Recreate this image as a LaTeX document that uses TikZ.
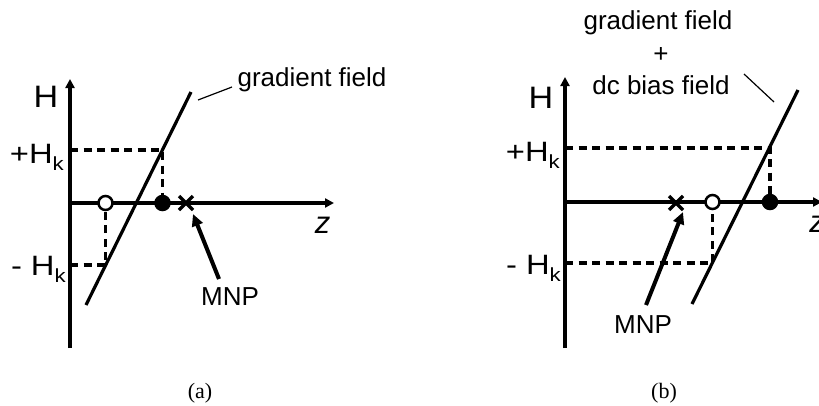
\documentclass[tikz,border=0pt]{standalone}
\usepackage{fontspec}
\setmainfont{Liberation Sans}
\newfontfamily\capfont{Liberation Serif}
\usetikzlibrary{arrows.meta,calc}
\newcommand{\fsz}[1]{\fontsize{#1}{#1}\selectfont}
\newcommand{\subk}{\lower7pt\hbox{\fsz{19}k}}
\newcommand{\wide}[1]{\scalebox{1.17}[1]{#1}}
\begin{document}
\begin{tikzpicture}[x=1pt,y=-1pt,
  axis/.style={line width=3.2pt,-{Triangle[length=9pt,width=9pt]}},
  field/.style={line width=3.2pt},
  guide/.style={line width=3.2pt,dash pattern=on 8pt off 5.5pt},
  leader/.style={line width=1.2pt},
  mnparrow/.style={line width=4pt,-{Triangle[length=12pt,width=11pt]}},
  fullpt/.style={circle,fill=black,draw=black,line width=2.5pt,minimum size=14pt,inner sep=0pt},
  openpt/.style={circle,fill=white,draw=black,line width=2.5pt,minimum size=14pt,inner sep=0pt},
  cross/.style={line width=3.5pt},
  lab/.style={inner sep=0pt,font=\fsz{26}},
  biglab/.style={inner sep=0pt,font=\fsz{31}},
  zlab/.style={inner sep=0pt,font=\fsz{31}\itshape,anchor=base},
  hk/.style={inner sep=0pt,font=\fsz{28},anchor=base east},
  capt/.style={inner sep=0pt,font=\capfont\fsz{22},anchor=base}]
\useasboundingbox (0,0) rectangle (819,405);
% ---------------- panel (a) ----------------
\coordinate (aO) at (70,203);
\coordinate (aTop) at (70,79);
\coordinate (aBot) at (70,348);
\coordinate (aRight) at (334,203);
\draw[field] (aBot) -- (aO);
\draw[axis] (aO) -- (aTop);
\draw[axis] (aO) -- (aRight);
\coordinate (aG1) at (86,305);
\coordinate (aG2) at (191,92);
\draw[field] (aG1) -- (aG2);
\coordinate (aPk) at (70,150);
\coordinate (aPx) at (162.5,150);
\coordinate (aPz) at (162.5,203);
\coordinate (aMk) at (70,265);
\coordinate (aMx) at (105.5,265);
\coordinate (aMz) at (105.5,203);
\draw[guide] (aPk) -- (aPx) -- (aPz);
\draw[guide] (aMk) -- (aMx) -- (aMz);
\node[fullpt] (aFull) at (aPz) {};
\node[openpt] (aOpen) at (aMz) {};
\coordinate (aX) at (186,203);
\draw[cross] ($(aX)+(-7,-7)$) -- ($(aX)+(7,7)$) ($(aX)+(-7,7)$) -- ($(aX)+(7,-7)$);
\node[biglab,anchor=base] (aH) at (46,107) {\scalebox{1.1}[1]{H}};
\node[hk] (aHkp) at (64,163) {\wide{+H\subk}};
\node[hk] (aHkm) at (66,275) {\wide{- H\subk}};
\node[zlab] (aZ) at (322.5,233) {z};
\node[lab,anchor=base] (aGF) at (312,86) {gradient field};
\coordinate (aL1) at (198,100);
\coordinate (aL2) at (232,87);
\draw[leader] (aL1) -- (aL2);
\node[lab,anchor=base] (aMNP) at (230,305) {MNP};
\coordinate (aA1) at (219,279);
\coordinate (aA2) at (193,214);
\draw[mnparrow] (aA1) -- (aA2);
\node[capt] (capA) at (200,398) {(a)};
% ---------------- panel (b) ----------------
\coordinate (bO) at (565,202);
\coordinate (bTop) at (565,77);
\coordinate (bBot) at (565,348);
\coordinate (bRight) at (822,202);
\draw[field] (bBot) -- (bO);
\draw[axis] (bO) -- (bTop);
\draw[axis] (bO) -- (bRight);
\coordinate (bG1) at (692,304);
\coordinate (bG2) at (798,90);
\draw[field] (bG1) -- (bG2);
\coordinate (bPk) at (565,148);
\coordinate (bPx) at (770,148);
\coordinate (bPz) at (770,202);
\coordinate (bMk) at (565,263);
\coordinate (bMx) at (712.5,263);
\coordinate (bMz) at (712.5,202);
\draw[guide] (bPk) -- (bPx) -- (bPz);
\draw[guide] (bMk) -- (bMx) -- (bMz);
\node[fullpt] (bFull) at (bPz) {};
\node[openpt] (bOpen) at (bMz) {};
\coordinate (bX) at (676,203);
\draw[cross] ($(bX)+(-7,-7)$) -- ($(bX)+(7,7)$) ($(bX)+(-7,7)$) -- ($(bX)+(7,-7)$);
\node[biglab,anchor=base] (bH) at (541,108) {\scalebox{1.1}[1]{H}};
\node[hk] (bHkp) at (560,161) {\wide{+H\subk}};
\node[hk] (bHkm) at (561,274) {\wide{- H\subk}};
\node[zlab] (bZ) at (817,232) {z};
\node[lab,anchor=base] (bGF1) at (658,29) {gradient field};
\node[lab,anchor=base] (bPlus) at (661,62) {+};
\node[lab,anchor=base] (bGF2) at (661,94) {dc bias field};
\coordinate (bL1) at (744,74);
\coordinate (bL2) at (774,102);
\draw[leader] (bL1) -- (bL2);
\node[lab,anchor=base] (bMNP) at (643,333) {MNP};
\coordinate (bA1) at (646,305);
\coordinate (bA2) at (683,212);
\draw[mnparrow] (bA1) -- (bA2);
\node[capt] (capB) at (664,398) {(b)};
\end{tikzpicture}
\end{document}
